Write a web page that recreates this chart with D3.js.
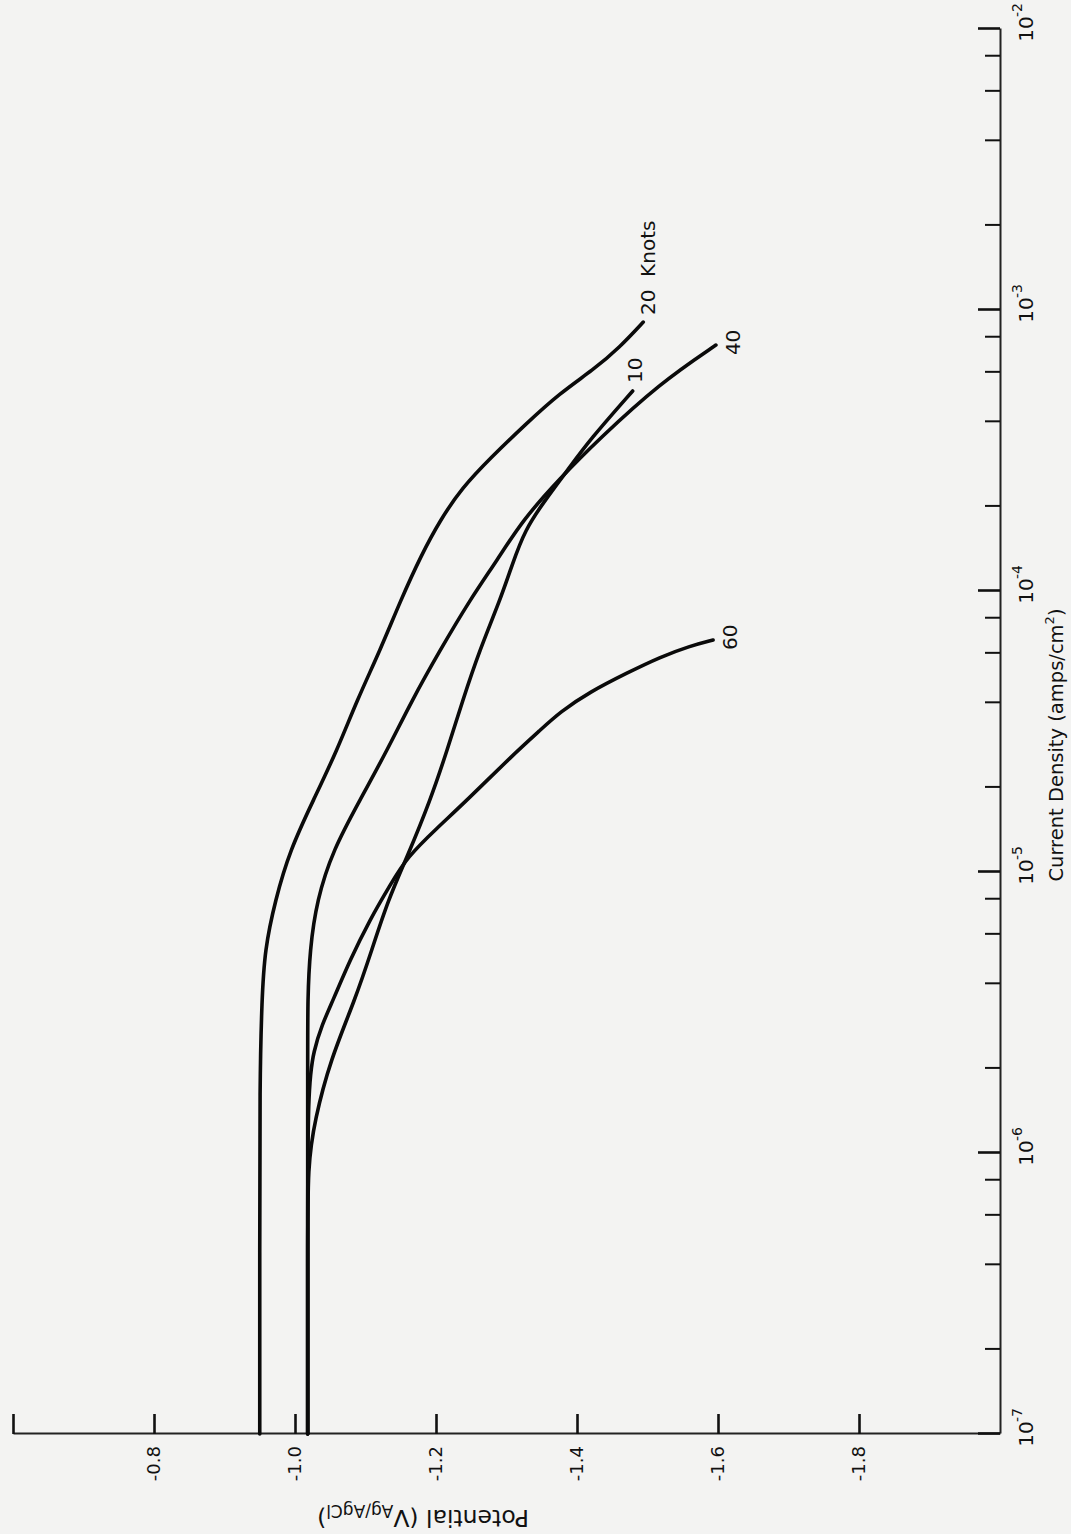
<!DOCTYPE html>
<html>
<head>
<meta charset="utf-8">
<script src="https://d3js.org/d3.v7.min.js"></script>
<style>
  html, body { margin: 0; padding: 0; background: #f3f3f2; }
  svg { display: block; }
  text { font-family: "DejaVu Sans", "Liberation Sans", sans-serif; fill: #111; }
</style>
</head>
<body>
<div id="chart"></div>
<script>
// current density (amps/cm2) vs potential (V Ag/AgCl), one pair of arrays per speed
const current10 = [1e-7, 4.52e-7, 9.06e-7, 1.31e-6, 2.14e-6, 3.5e-6, 5.28e-6, 7.95e-6, 1.13e-5, 1.8e-5, 2.72e-5, 4.09e-5, 6.17e-5, 9.29e-5, 1.24e-4, 1.65e-4, 2.11e-4, 2.7e-4, 3.45e-4, 5.15e-4];
const potential10 = [-1.018, -1.018, -1.018, -1.028, -1.050, -1.085, -1.109, -1.132, -1.159, -1.192, -1.216, -1.238, -1.262, -1.291, -1.308, -1.326, -1.355, -1.387, -1.418, -1.479];

const current20 = [1e-7, 4.52e-7, 1.82e-6, 3.5e-6, 5.28e-6, 7.95e-6, 1.2e-5, 1.8e-5, 2.72e-5, 4.09e-5, 6.17e-5, 9.29e-5, 1.34e-4, 1.79e-4, 2.33e-4, 2.97e-4, 3.9e-4, 5.07e-4, 6.12e-4, 7.38e-4, 9.06e-4];
const potential20 = [-0.950, -0.950, -0.950, -0.953, -0.957, -0.972, -0.993, -1.026, -1.060, -1.088, -1.121, -1.150, -1.179, -1.206, -1.237, -1.277, -1.326, -1.376, -1.423, -1.461, -1.494];

const current40 = [1e-7, 4.52e-7, 2.33e-6, 3.5e-6, 5.28e-6, 7.95e-6, 1.2e-5, 1.8e-5, 2.72e-5, 4.09e-5, 6.17e-5, 9.29e-5, 1.29e-4, 1.79e-4, 2.52e-4, 3.45e-4, 5.5e-4, 7.5e-4];
const potential40 = [-1.018, -1.018, -1.018, -1.018, -1.021, -1.031, -1.054, -1.092, -1.131, -1.166, -1.206, -1.248, -1.287, -1.323, -1.376, -1.430, -1.518, -1.597];

const current60 = [1e-7, 4.52e-7, 1.75e-6, 2.33e-6, 2.85e-6, 3.5e-6, 4.86e-6, 6.75e-6, 8.99e-6, 1.13e-5, 1.43e-5, 1.8e-5, 2.61e-5, 3.2e-5, 3.71e-5, 4.37e-5, 5.11e-5, 5.82e-5, 6.37e-5, 6.69e-5];
const potential60 = [-1.018, -1.018, -1.018, -1.027, -1.038, -1.054, -1.078, -1.106, -1.135, -1.159, -1.201, -1.244, -1.309, -1.348, -1.376, -1.418, -1.471, -1.518, -1.560, -1.593];

const seriesNames = ['10', '20', '40', '60'];
const seriesLabels = ['10', '20  Knots', '40', '60'];

const potentialTicks = [-0.6, -0.8, -1.0, -1.2, -1.4, -1.6, -1.8];
const potentialTickLabels = ['', '-0.8', '-1.0', '-1.2', '-1.4', '-1.6', '-1.8'];
const currentMajor = [1e-7, 1e-6, 1e-5, 1e-4, 1e-3, 1e-2];
const currentExp = ['-7', '-6', '-5', '-4', '-3', '-2'];
const currentMinor = [];
[1e-7, 1e-6, 1e-5, 1e-4, 1e-3].forEach(p => [2, 4, 6, 8].forEach(m => currentMinor.push(m * p)));

const series = seriesNames.map((name, i) => {
    const cur = [current10, current20, current40, current60][i];
    const pot = [potential10, potential20, potential40, potential60][i];
    return { name, label: seriesLabels[i], values: cur.map((c, j) => ({ c, v: pot[j] })) };
});

// the figure is printed turned on its side: draw it upright, then rotate the group
const width = 1071, height = 1534;
const plotW = 1405, plotH = 987;

const svg = d3.select('#chart').append('svg')
    .attr('width', width)
    .attr('height', height)
    .attr('xmlns', 'http://www.w3.org/2000/svg');

const g = svg.append('g').attr('transform', 'translate(13,1434) rotate(-90)');

const x = d3.scaleLog().domain([1e-7, 1e-2]).range([0, plotW]);
const y = d3.scaleLinear().domain([-0.6, -2.0]).range([0, plotH]);

// potential axis
const yAxis = g.append('g')
    .call(d3.axisLeft(y).tickValues(potentialTicks).tickSizeInner(-20).tickSizeOuter(0).tickPadding(12)
        .tickFormat((d, i) => potentialTickLabels[i]));
yAxis.select('.domain').attr('stroke', '#222').attr('stroke-width', 2);
yAxis.selectAll('.tick line').attr('stroke', '#111').attr('stroke-width', 2.6);
yAxis.selectAll('.tick text').attr('font-size', 18).attr('fill', '#111')
    .attr('font-family', '"DejaVu Sans", sans-serif');

// current density axis
const xAxis = g.append('g').attr('transform', `translate(0,${plotH})`)
    .call(d3.axisBottom(x).tickValues(currentMajor).tickSizeInner(-22).tickSizeOuter(0).tickFormat(''));
xAxis.select('.domain').attr('stroke', '#222').attr('stroke-width', 2);
xAxis.selectAll('.tick line').attr('stroke', '#111').attr('stroke-width', 2.6);

const xMinor = g.append('g').attr('transform', `translate(0,${plotH})`)
    .call(d3.axisBottom(x).tickValues(currentMinor).tickSizeInner(-15).tickSizeOuter(0).tickFormat(''));
xMinor.select('.domain').remove();
xMinor.selectAll('.tick line').attr('stroke', '#111').attr('stroke-width', 2);

const expLabels = g.append('g');
currentMajor.forEach((d, i) => {
    expLabels.append('text')
        .attr('x', x(d)).attr('y', plotH + 33)
        .attr('text-anchor', 'middle').attr('font-size', 20)
        .text('10');
    expLabels.append('text')
        .attr('x', x(d) + 12).attr('y', plotH + 22)
        .attr('font-size', 14)
        .text(currentExp[i]);
});

// axis titles
const xTitle = g.append('text')
    .attr('x', 689).attr('y', 1050)
    .attr('text-anchor', 'middle').attr('font-size', 19.5);
xTitle.append('tspan').text('Current Density (amps/cm');
xTitle.append('tspan').attr('dy', -9).attr('font-size', 13).text('2');
xTitle.append('tspan').attr('dy', 9).text(')');

const yTitle = g.append('text')
    .attr('transform', 'translate(-76,410) rotate(-90)')
    .attr('text-anchor', 'middle').attr('font-size', 23.5);
yTitle.append('tspan').text('Potential (V');
yTitle.append('tspan').attr('dy', 5).attr('font-size', 17).text('Ag/AgCl');
yTitle.append('tspan').attr('dy', -5).text(')');

// curves
const line = d3.line()
    .x(d => x(d.c))
    .y(d => y(d.v))
    .curve(d3.curveBasis);

g.append('g').selectAll('path')
    .data(series)
    .join('path')
    .attr('d', d => line(d.values))
    .attr('fill', 'none')
    .attr('stroke', '#0a0a0a')
    .attr('stroke-width', 3.6)
    .attr('stroke-linecap', 'round');

// end labels, offsets from the last point of each curve
const labelOffset = { '10': [8, 9], '20': [7, 12], '40': [-10, 24], '60': [-10, 24] };
g.append('g').selectAll('text')
    .data(series)
    .join('text')
    .attr('x', d => x(d.values[d.values.length - 1].c) + labelOffset[d.name][0])
    .attr('y', d => y(d.values[d.values.length - 1].v) + labelOffset[d.name][1])
    .attr('font-size', 20)
    .style('white-space', 'pre')
    .text(d => d.label);
</script>
</body>
</html>
